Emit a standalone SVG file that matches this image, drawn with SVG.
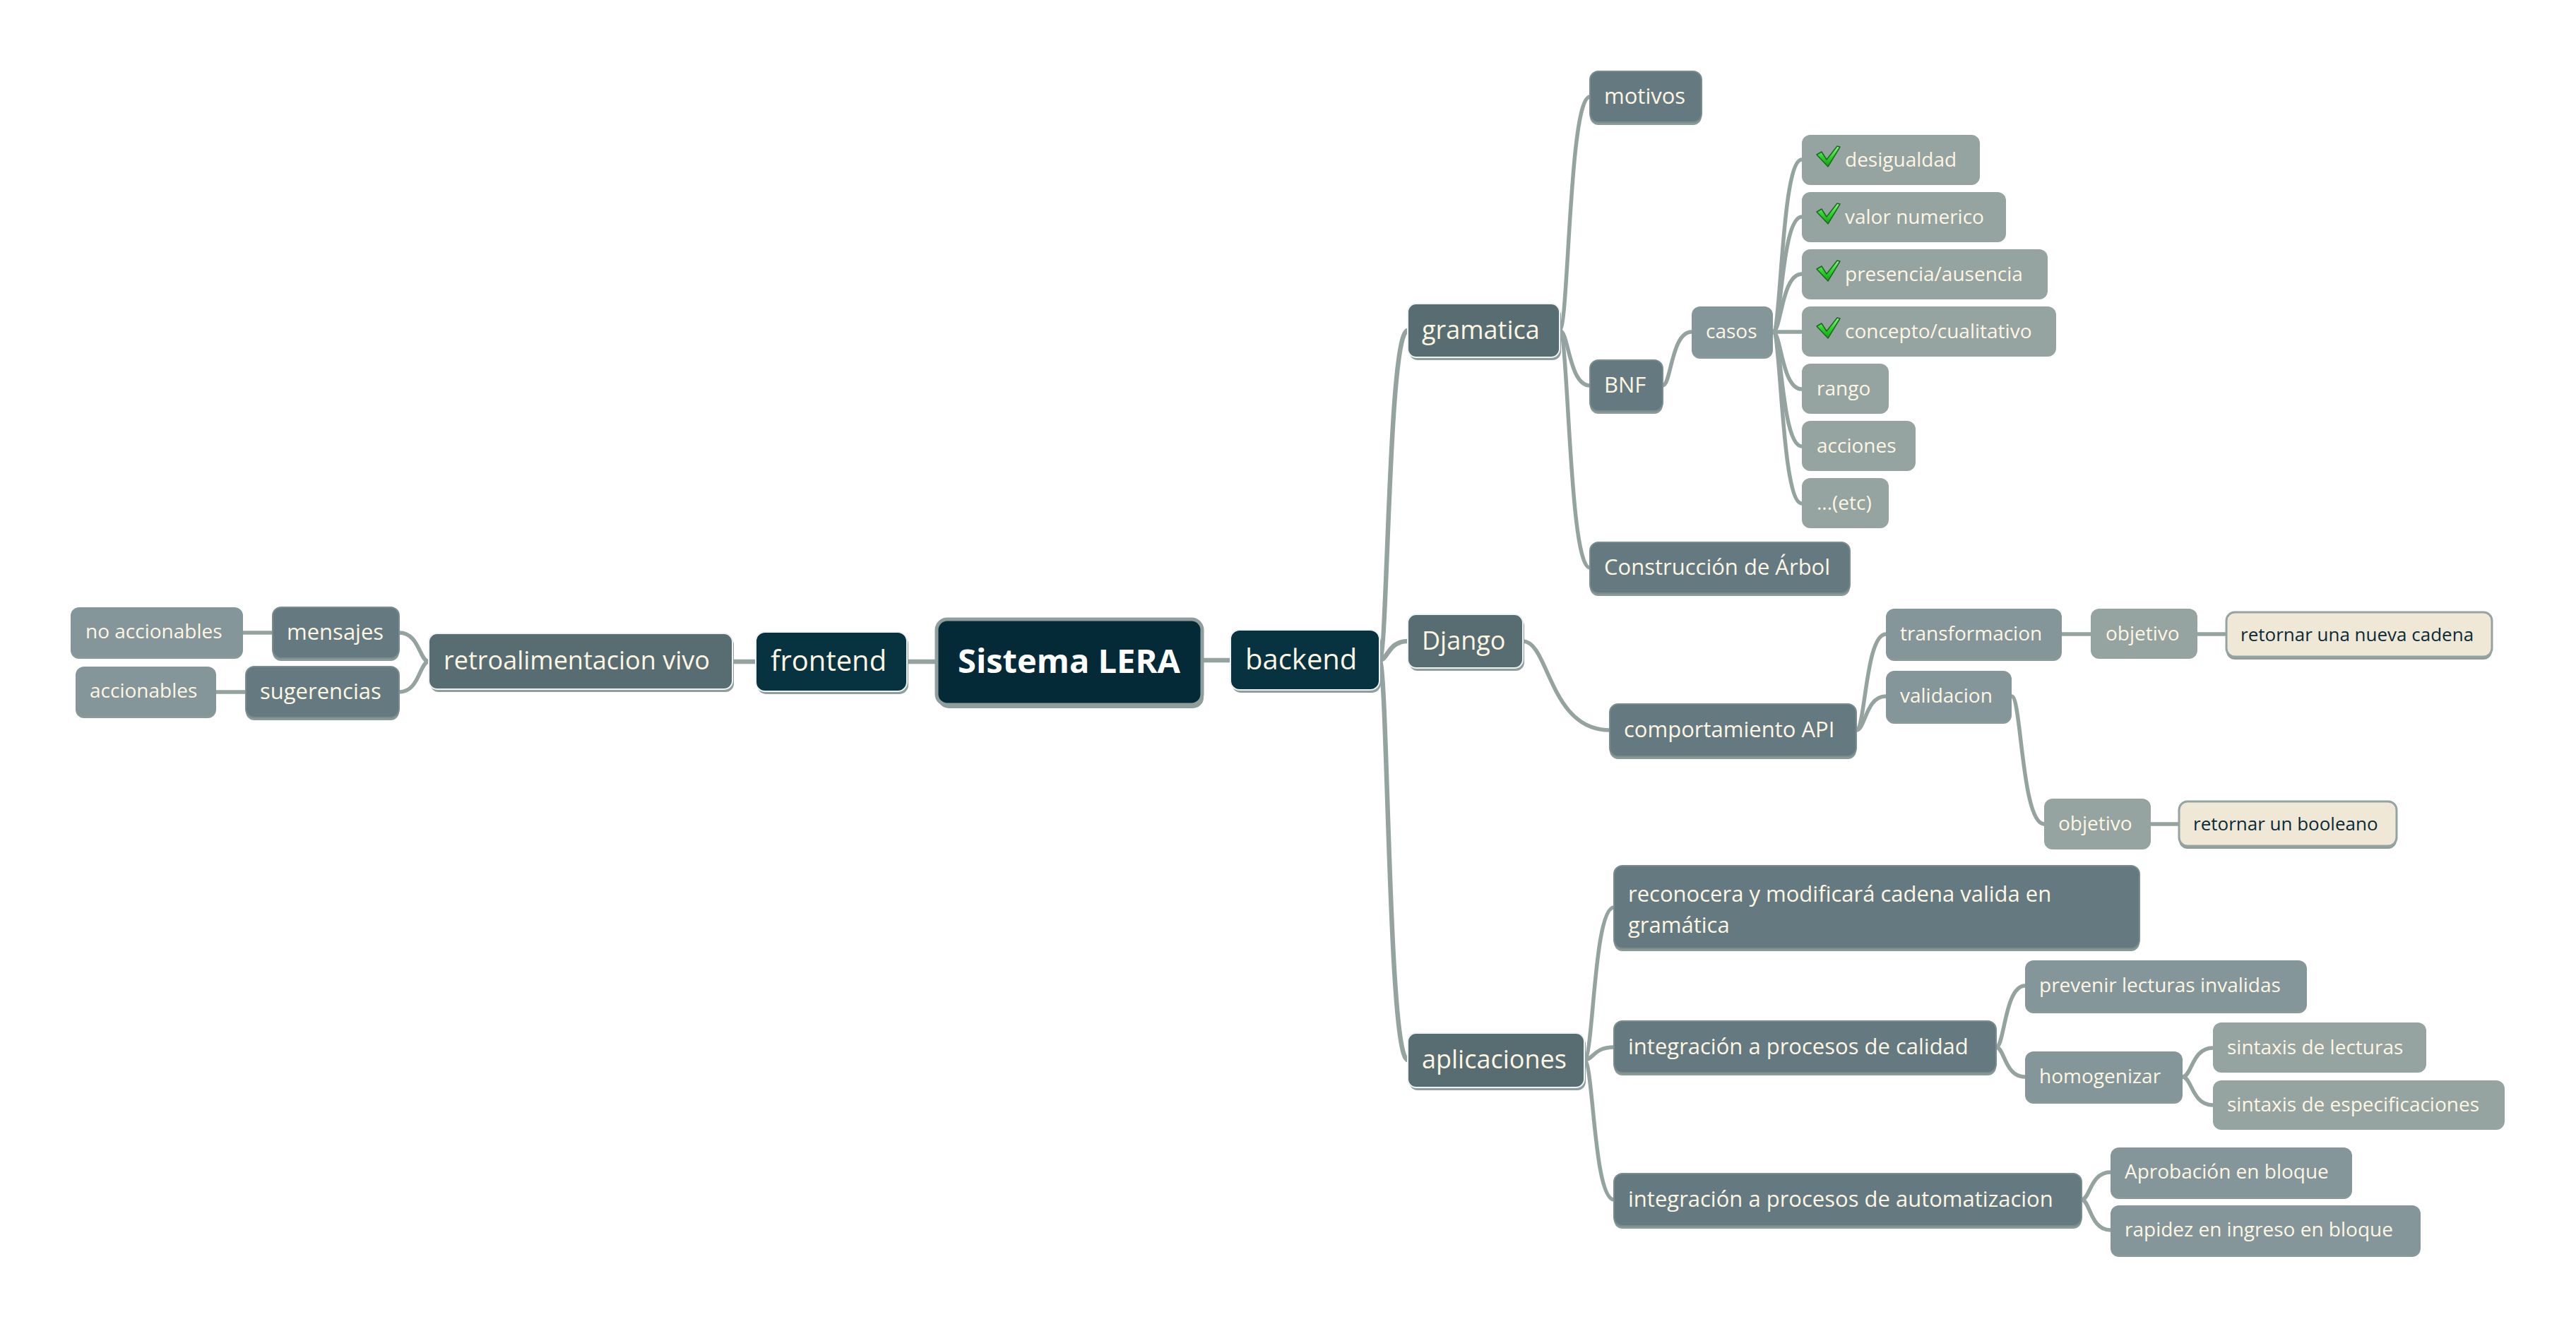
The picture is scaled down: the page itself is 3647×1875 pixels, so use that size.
<svg xmlns="http://www.w3.org/2000/svg" width="3647" height="1875" viewBox="0 0 3647 1875">
<defs>
<style>
text{font-family:"Open Sans","Noto Sans",sans-serif;fill:#fdf6e3;text-anchor:start}
.c{fill:none;stroke:#95a3a0;stroke-width:5.5;stroke-linecap:round}
.c1{stroke-width:6.5}
.root{fill:#042a38;stroke:#8f9e9c;stroke-width:5}
.l1{fill:#06333f;stroke:#eef2f2;stroke-width:2}
.l2{fill:#576d72;stroke:#eef2f2;stroke-width:2}
.l3{fill:#647a80;stroke:#7a8c8c;stroke-width:2}
.l4{fill:#84969a}
.l5{fill:#95a3a1}
.leaf{fill:#efe8d6;stroke:#95a3a1;stroke-width:3}
.sh{fill:#8f9d9c}
.sh2{fill:#8a9a99}
.f47{font-size:47px;font-weight:bold;fill:#ffffff}
.f40{font-size:40px}
.f36{font-size:36px}
.f31{font-size:31px}
.f28{font-size:28px}
.f26{font-size:26px;fill:#0b2b36}
</style>
<linearGradient id="gg" x1="0" y1="0" x2="0" y2="1">
<stop offset="0" stop-color="#8af58a"/>
<stop offset="0.5" stop-color="#2fd62f"/>
<stop offset="1" stop-color="#13a013"/>
</linearGradient>
<g id="check"><path d="M0 12 L7 8 L14 19 L29 0 L33 1 L16 29 Z" fill="url(#gg)" stroke="#1b6a1b" stroke-width="1.5" stroke-linejoin="round"/></g>
</defs>
<rect width="3647" height="1875" fill="#ffffff"/>
<g id="connectors">
<path class="c c1" d="M1326 937 L1284 937"/>
<path class="c c1" d="M1702 935 L1742 935"/>
<path class="c c1" d="M1070 937 L1037 937"/>
<path class="c" d="M607 937 C594 937 594 896 565 896"/>
<path class="c" d="M607 937 C594 937 594 980 565 980"/>
<path class="c" d="M386 896 L344 896"/>
<path class="c" d="M348 980 L306 980"/>
<path class="c c1" d="M1953 935 C1965 935 1965 468 1993 468"/>
<path class="c c1" d="M1953 935 C1965 935 1965 908 1993 908"/>
<path class="c c1" d="M1953 935 C1965 935 1965 1501 1993 1501"/>
<path class="c" d="M2208 468 C2221 468 2221 137 2251 137"/>
<path class="c" d="M2208 468 C2221 468 2221 546 2251 546"/>
<path class="c" d="M2208 468 C2221 468 2221 804 2251 804"/>
<path class="c" d="M2354 546 C2366 546 2366 470 2395 470"/>
<path class="c" d="M2510 470 C2522 470 2522 226 2551 226"/>
<path class="c" d="M2510 470 C2522 470 2522 307 2551 307"/>
<path class="c" d="M2510 470 C2522 470 2522 388 2551 388"/>
<path class="c" d="M2510 470 L2551 470"/>
<path class="c" d="M2510 470 C2522 470 2522 551 2551 551"/>
<path class="c" d="M2510 470 C2522 470 2522 632 2551 632"/>
<path class="c" d="M2510 470 C2522 470 2522 713 2551 713"/>
<path class="c" d="M2156 908 C2193 908 2193 1034 2279 1034"/>
<path class="c" d="M2628 1034 C2641 1034 2641 898 2670 898"/>
<path class="c" d="M2628 1034 C2641 1034 2641 986 2670 986"/>
<path class="c" d="M2919 898 L2960 898"/>
<path class="c" d="M3111 898 L3152 898"/>
<path class="c" d="M2848 986 C2862 986 2862 1167 2894 1167"/>
<path class="c" d="M3045 1167 L3085 1167"/>
<path class="c" d="M2243 1501 C2256 1501 2256 1285 2285 1285"/>
<path class="c" d="M2243 1501 C2256 1501 2256 1483 2285 1483"/>
<path class="c" d="M2243 1501 C2256 1501 2256 1699 2285 1699"/>
<path class="c" d="M2826 1483 C2838 1483 2838 1396 2867 1396"/>
<path class="c" d="M2826 1483 C2838 1483 2838 1525 2867 1525"/>
<path class="c" d="M3090 1525 C3103 1525 3103 1484 3133 1484"/>
<path class="c" d="M3090 1525 C3103 1525 3103 1565 3133 1565"/>
<path class="c" d="M2947 1699 C2959 1699 2959 1660 2988 1660"/>
<path class="c" d="M2947 1699 C2959 1699 2959 1742 2988 1742"/>
</g>

<g id="n-root"><rect class="sh" x="1328" y="882" width="376" height="121" rx="15"/><rect class="root" x="1326" y="877" width="376" height="121" rx="15"/><text class="f47" x="1356" y="953">Sistema LERA</text></g>
<g id="n-frontend"><rect class="sh" x="1072" y="899" width="214" height="84" rx="13"/><rect class="l1" x="1070" y="895" width="214" height="84" rx="13"/><text class="f40" x="1091" y="950">frontend</text></g>
<g id="n-backend"><rect class="sh" x="1744" y="896" width="211" height="85" rx="13"/><rect class="l1" x="1742" y="892" width="211" height="85" rx="13"/><text class="f40" x="1763" y="948">backend</text></g>
<g id="n-retro"><rect class="sh" x="609" y="901" width="430" height="79" rx="12"/><rect class="l2" x="607" y="897" width="430" height="79" rx="12"/><text class="f36" x="628" y="948">retroalimentacion vivo</text></g>
<g id="n-mensajes"><rect class="sh2" x="386" y="864" width="179" height="72" rx="12"/><rect class="l3" x="386" y="860" width="179" height="72" rx="12"/><text class="f31" x="406" y="906">mensajes</text></g>
<g id="n-sugerencias"><rect class="sh2" x="348" y="948" width="217" height="72" rx="12"/><rect class="l3" x="348" y="944" width="217" height="72" rx="12"/><text class="f31" x="368" y="990">sugerencias</text></g>
<g id="n-noacc"><rect class="sh2" x="100" y="863" width="244" height="70" rx="12"/><rect class="l4" x="100" y="860" width="244" height="70" rx="12"/><text class="f28" x="121" y="904">no accionables</text></g>
<g id="n-acc"><rect class="sh2" x="107" y="947" width="199" height="70" rx="12"/><rect class="l4" x="107" y="944" width="199" height="70" rx="12"/><text class="f28" x="127" y="988">accionables</text></g>

<g id="n-gramatica"><rect class="sh" x="1995" y="434" width="215" height="76" rx="12"/><rect class="l2" x="1993" y="430" width="215" height="76" rx="12"/><text class="f36" x="2013" y="480">gramatica</text></g>
<g id="n-motivos"><rect class="sh2" x="2251" y="105" width="158" height="72" rx="12"/><rect class="l3" x="2251" y="101" width="158" height="72" rx="12"/><text class="f31" x="2271" y="147">motivos</text></g>
<g id="n-bnf"><rect class="sh2" x="2251" y="514" width="103" height="72" rx="12"/><rect class="l3" x="2251" y="510" width="103" height="72" rx="12"/><text class="f31" x="2271" y="556">BNF</text></g>
<g id="n-arbol"><rect class="sh2" x="2251" y="772" width="368" height="72" rx="12"/><rect class="l3" x="2251" y="768" width="368" height="72" rx="12"/><text class="f31" x="2271" y="814">Construcción de Árbol</text></g>
<g id="n-casos"><rect class="sh2" x="2395" y="437" width="115" height="71" rx="12"/><rect class="l4" x="2395" y="434" width="115" height="71" rx="12"/><text class="f28" x="2415" y="479">casos</text></g>
<g id="n-desig"><rect class="l5" x="2551" y="191" width="252" height="71" rx="12"/><use href="#check" x="2572" y="207"/><text class="f28" x="2612" y="236">desigualdad</text></g>
<g id="n-valor"><rect class="l5" x="2551" y="272" width="289" height="71" rx="12"/><use href="#check" x="2572" y="288"/><text class="f28" x="2612" y="317">valor numerico</text></g>
<g id="n-presencia"><rect class="l5" x="2551" y="353" width="348" height="71" rx="12"/><use href="#check" x="2572" y="369"/><text class="f28" x="2612" y="398">presencia/ausencia</text></g>
<g id="n-concepto"><rect class="l5" x="2551" y="434" width="360" height="71" rx="12"/><use href="#check" x="2572" y="450"/><text class="f28" x="2612" y="479">concepto/cualitativo</text></g>
<g id="n-rango"><rect class="l5" x="2551" y="515" width="123" height="71" rx="12"/><text class="f28" x="2572" y="560">rango</text></g>
<g id="n-acciones"><rect class="l5" x="2551" y="596" width="161" height="71" rx="12"/><text class="f28" x="2572" y="641">acciones</text></g>
<g id="n-etc"><rect class="l5" x="2551" y="677" width="123" height="71" rx="12"/><text class="f28" x="2572" y="722">...(etc)</text></g>

<g id="n-django"><rect class="sh" x="1995" y="874" width="163" height="76" rx="12"/><rect class="l2" x="1993" y="870" width="163" height="76" rx="12"/><text class="f36" x="2013" y="920">Django</text></g>
<g id="n-api"><rect class="sh2" x="2279" y="1001" width="349" height="74" rx="12"/><rect class="l3" x="2279" y="997" width="349" height="74" rx="12"/><text class="f31" x="2299" y="1044">comportamiento API</text></g>
<g id="n-transf"><rect class="sh2" x="2670" y="865" width="249" height="71" rx="12"/><rect class="l4" x="2670" y="862" width="249" height="71" rx="12"/><text class="f28" x="2690" y="907">transformacion</text></g>
<g id="n-obj1"><rect class="l5" x="2960" y="862" width="151" height="71" rx="12"/><text class="f28" x="2981" y="907">objetivo</text></g>
<g id="n-cadena"><rect class="sh" x="3152" y="871" width="376" height="63" rx="12"/><rect class="leaf" x="3152" y="867" width="376" height="63" rx="12"/><text class="f26" x="3172" y="908">retornar una nueva cadena</text></g>
<g id="n-valid"><rect class="sh2" x="2670" y="953" width="178" height="72" rx="12"/><rect class="l4" x="2670" y="950" width="178" height="72" rx="12"/><text class="f28" x="2690" y="995">validacion</text></g>
<g id="n-obj2"><rect class="l5" x="2894" y="1131" width="151" height="72" rx="12"/><text class="f28" x="2914" y="1176">objetivo</text></g>
<g id="n-bool"><rect class="sh" x="3085" y="1139" width="308" height="63" rx="12"/><rect class="leaf" x="3085" y="1135" width="308" height="63" rx="12"/><text class="f26" x="3105" y="1176">retornar un booleano</text></g>

<g id="n-aplic"><rect class="sh" x="1995" y="1467" width="250" height="77" rx="12"/><rect class="l2" x="1993" y="1463" width="250" height="77" rx="12"/><text class="f36" x="2013" y="1513">aplicaciones</text></g>
<g id="n-recon"><rect class="sh2" x="2285" y="1230" width="744" height="117" rx="12"/><rect class="l3" x="2285" y="1226" width="744" height="117" rx="12"/><text class="f31" x="2305" y="1277">reconocera y modificará cadena valida en</text><text class="f31" x="2305" y="1321">gramática</text></g>
<g id="n-calidad"><rect class="sh2" x="2285" y="1450" width="541" height="73" rx="12"/><rect class="l3" x="2285" y="1446" width="541" height="73" rx="12"/><text class="f31" x="2305" y="1493">integración a procesos de calidad</text></g>
<g id="n-prevenir"><rect class="sh2" x="2867" y="1363" width="399" height="72" rx="12"/><rect class="l4" x="2867" y="1360" width="399" height="72" rx="12"/><text class="f28" x="2887" y="1405">prevenir lecturas invalidas</text></g>
<g id="n-homog"><rect class="sh2" x="2867" y="1492" width="223" height="71" rx="12"/><rect class="l4" x="2867" y="1489" width="223" height="71" rx="12"/><text class="f28" x="2887" y="1534">homogenizar</text></g>
<g id="n-sintlect"><rect class="l5" x="3133" y="1448" width="302" height="71" rx="12"/><text class="f28" x="3153" y="1493">sintaxis de lecturas</text></g>
<g id="n-sintesp"><rect class="l5" x="3133" y="1530" width="413" height="70" rx="12"/><text class="f28" x="3153" y="1574">sintaxis de especificaciones</text></g>
<g id="n-autom"><rect class="sh2" x="2285" y="1666" width="662" height="74" rx="12"/><rect class="l3" x="2285" y="1662" width="662" height="74" rx="12"/><text class="f31" x="2305" y="1709">integración a procesos de automatizacion</text></g>
<g id="n-aprob"><rect class="sh2" x="2988" y="1628" width="342" height="70" rx="12"/><rect class="l4" x="2988" y="1625" width="342" height="70" rx="12"/><text class="f28" x="3008" y="1669">Aprobación en bloque</text></g>
<g id="n-rapidez"><rect class="sh2" x="2988" y="1710" width="439" height="70" rx="12"/><rect class="l4" x="2988" y="1707" width="439" height="70" rx="12"/><text class="f28" x="3008" y="1751">rapidez en ingreso en bloque</text></g>
</svg>
